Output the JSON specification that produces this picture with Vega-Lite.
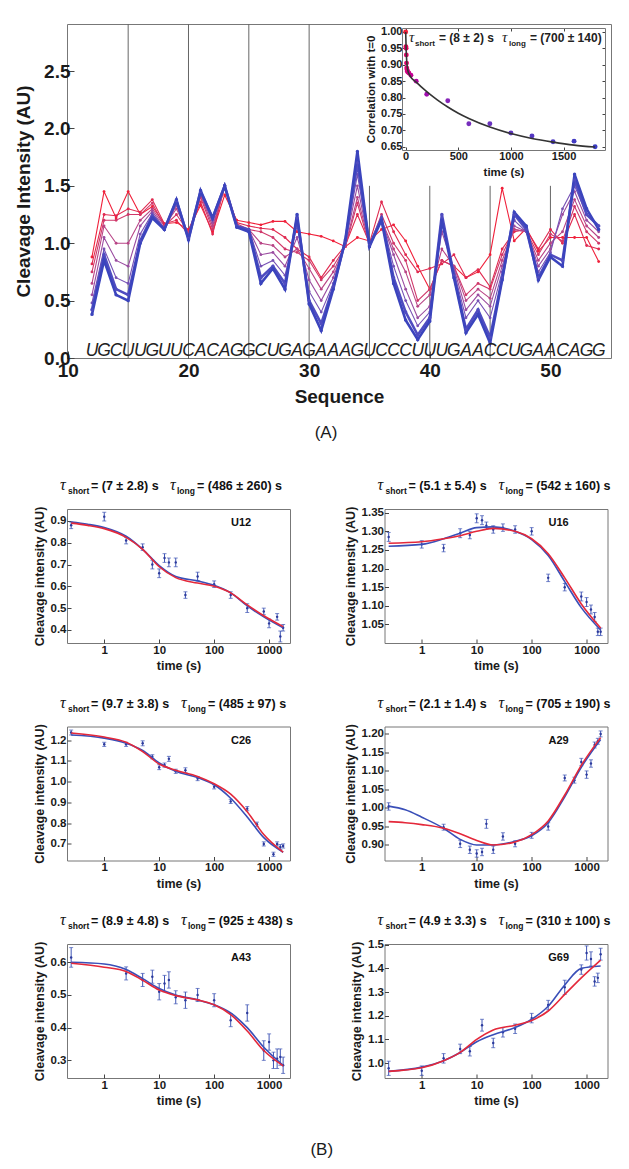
{
"$schema": "https://vega.github.io/schema/vega-lite/v6.json",
"background": "white",
"padding": {"left": 14, "top": 23, "right": 6, "bottom": 6},
"bounds": "flush",
"spacing": 151,
"config": {
  "font": "Liberation Sans",
  "view": {"stroke": "#777", "strokeWidth": 1},
  "axis": {"grid": false, "domain": false, "labelFlush": false, "labelOverlap": false, "tickCount": 20, "tickColor": "#444", "domainColor": "#777", "labelColor": "#1a1a1a", "titleColor": "#1a1a1a", "labelFont": "Liberation Sans Narrow, Arial Narrow, Liberation Sans", "titleFont": "Liberation Sans Narrow, Arial Narrow, Liberation Sans", "labelFontWeight": "bold", "titleFontWeight": "bold", "labelFontSize": 11.5, "titleFontSize": 12.5, "tickSize": -4, "labelPadding": 5, "titlePadding": 4},
  "title": {"color": "#1a1a1a"}
},
"datasets": {
"main": [
{"p":12,"b":"U","S1":0.88,"S2":0.82,"S3":0.75,"S4":0.65,"S5":0.55,"S6":0.48,"S7":0.42,"S8":0.38},
{"p":13,"b":"G","S1":1.45,"S2":1.25,"S3":1.2,"S4":1.15,"S5":1.05,"S6":0.95,"S7":0.9,"S8":0.85},
{"p":14,"b":"C","S1":1.22,"S2":1.24,"S3":1.2,"S4":1.0,"S5":0.85,"S6":0.7,"S7":0.6,"S8":0.55},
{"p":15,"b":"U","S1":1.45,"S2":1.3,"S3":1.25,"S4":1.0,"S5":0.8,"S6":0.65,"S7":0.55,"S8":0.5},
{"p":16,"b":"U","S1":1.25,"S2":1.27,"S3":1.25,"S4":1.2,"S5":1.15,"S6":1.08,"S7":1.02,"S8":1.0},
{"p":17,"b":"G","S1":1.32,"S2":1.38,"S3":1.35,"S4":1.3,"S5":1.28,"S6":1.26,"S7":1.24,"S8":1.22},
{"p":18,"b":"U","S1":1.17,"S2":1.17,"S3":1.15,"S4":1.15,"S5":1.13,"S6":1.12,"S7":1.12,"S8":1.12},
{"p":19,"b":"U","S1":1.18,"S2":1.2,"S3":1.25,"S4":1.3,"S5":1.33,"S6":1.35,"S7":1.37,"S8":1.38},
{"p":20,"b":"C","S1":1.12,"S2":1.08,"S3":1.1,"S4":1.08,"S5":1.06,"S6":1.05,"S7":1.04,"S8":1.03},
{"p":21,"b":"A","S1":1.33,"S2":1.36,"S3":1.4,"S4":1.42,"S5":1.43,"S6":1.44,"S7":1.45,"S8":1.46},
{"p":22,"b":"C","S1":1.1,"S2":1.08,"S3":1.12,"S4":1.15,"S5":1.18,"S6":1.2,"S7":1.22,"S8":1.22},
{"p":23,"b":"A","S1":1.42,"S2":1.5,"S3":1.5,"S4":1.48,"S5":1.5,"S6":1.5,"S7":1.5,"S8":1.5},
{"p":24,"b":"G","S1":1.2,"S2":1.18,"S3":1.17,"S4":1.15,"S5":1.15,"S6":1.15,"S7":1.15,"S8":1.14},
{"p":25,"b":"G","S1":1.18,"S2":1.15,"S3":1.12,"S4":1.12,"S5":1.12,"S6":1.12,"S7":1.12,"S8":1.1},
{"p":26,"b":"C","S1":1.16,"S2":1.13,"S3":1.1,"S4":1.0,"S5":0.9,"S6":0.8,"S7":0.7,"S8":0.65},
{"p":27,"b":"U","S1":1.19,"S2":1.12,"S3":1.05,"S4":0.98,"S5":0.92,"S6":0.85,"S7":0.8,"S8":0.78},
{"p":28,"b":"G","S1":1.19,"S2":1.05,"S3":0.95,"S4":0.88,"S5":0.8,"S6":0.72,"S7":0.65,"S8":0.6},
{"p":29,"b":"A","S1":1.1,"S2":0.95,"S3":0.92,"S4":0.95,"S5":1.05,"S6":1.15,"S7":1.22,"S8":1.25},
{"p":30,"b":"G","S1":1.08,"S2":0.88,"S3":0.85,"S4":0.78,"S5":0.68,"S6":0.58,"S7":0.5,"S8":0.47},
{"p":31,"b":"A","S1":1.06,"S2":0.7,"S3":0.68,"S4":0.6,"S5":0.5,"S6":0.4,"S7":0.3,"S8":0.24},
{"p":32,"b":"A","S1":1.02,"S2":0.85,"S3":0.8,"S4":0.75,"S5":0.7,"S6":0.65,"S7":0.62,"S8":0.6},
{"p":33,"b":"A","S1":0.97,"S2":0.98,"S3":0.97,"S4":0.98,"S5":1.0,"S6":1.0,"S7":1.02,"S8":1.03},
{"p":34,"b":"G","S1":1.05,"S2":1.25,"S3":1.35,"S4":1.4,"S5":1.5,"S6":1.6,"S7":1.7,"S8":1.8},
{"p":35,"b":"U","S1":1.02,"S2":1.0,"S3":0.98,"S4":1.0,"S5":0.98,"S6":0.98,"S7":0.98,"S8":0.97},
{"p":36,"b":"C","S1":1.12,"S2":1.36,"S3":1.25,"S4":1.2,"S5":1.2,"S6":1.22,"S7":1.22,"S8":1.2},
{"p":37,"b":"C","S1":1.16,"S2":1.1,"S3":1.0,"S4":0.95,"S5":0.9,"S6":0.8,"S7":0.7,"S8":0.65},
{"p":38,"b":"C","S1":1.02,"S2":0.9,"S3":0.85,"S4":0.75,"S5":0.6,"S6":0.5,"S7":0.4,"S8":0.33},
{"p":39,"b":"U","S1":0.8,"S2":0.75,"S3":0.5,"S4":0.45,"S5":0.35,"S6":0.28,"S7":0.2,"S8":0.16},
{"p":40,"b":"U","S1":0.6,"S2":0.78,"S3":0.6,"S4":0.55,"S5":0.45,"S6":0.4,"S7":0.35,"S8":0.32},
{"p":41,"b":"U","S1":0.85,"S2":0.82,"S3":0.85,"S4":0.95,"S5":1.1,"S6":1.2,"S7":1.25,"S8":1.2},
{"p":42,"b":"G","S1":0.8,"S2":0.9,"S3":0.8,"S4":0.8,"S5":0.78,"S6":0.75,"S7":0.72,"S8":0.7},
{"p":43,"b":"A","S1":0.7,"S2":0.7,"S3":0.55,"S4":0.5,"S5":0.42,"S6":0.35,"S7":0.25,"S8":0.22},
{"p":44,"b":"A","S1":0.75,"S2":0.77,"S3":0.65,"S4":0.6,"S5":0.55,"S6":0.5,"S7":0.42,"S8":0.38},
{"p":45,"b":"C","S1":0.9,"S2":0.62,"S3":0.6,"S4":0.52,"S5":0.45,"S6":0.35,"S7":0.18,"S8":0.13},
{"p":46,"b":"C","S1":1.48,"S2":0.95,"S3":0.9,"S4":0.85,"S5":0.8,"S6":0.75,"S7":0.7,"S8":0.68},
{"p":47,"b":"U","S1":1.02,"S2":1.1,"S3":1.12,"S4":1.12,"S5":1.15,"S6":1.2,"S7":1.25,"S8":1.27},
{"p":48,"b":"G","S1":1.13,"S2":1.12,"S3":1.1,"S4":1.1,"S5":1.1,"S6":1.1,"S7":1.12,"S8":1.15},
{"p":49,"b":"A","S1":0.93,"S2":0.95,"S3":0.9,"S4":0.85,"S5":0.8,"S6":0.75,"S7":0.7,"S8":0.68},
{"p":50,"b":"A","S1":1.05,"S2":1.12,"S3":1.08,"S4":1.0,"S5":0.95,"S6":0.92,"S7":0.9,"S8":0.88},
{"p":51,"b":"C","S1":1.05,"S2":1.0,"S3":1.02,"S4":1.1,"S5":1.25,"S6":1.3,"S7":0.85,"S8":0.8},
{"p":52,"b":"A","S1":1.05,"S2":1.25,"S3":1.32,"S4":1.38,"S5":1.45,"S6":1.5,"S7":1.55,"S8":1.6},
{"p":53,"b":"G","S1":1.05,"S2":0.98,"S3":1.1,"S4":1.15,"S5":1.2,"S6":1.25,"S7":1.25,"S8":1.3},
{"p":54,"b":"G","S1":0.84,"S2":0.95,"S3":1.0,"S4":1.05,"S5":1.1,"S6":1.15,"S7":1.15,"S8":1.12}
],
"rules": [{"x":15,"bot":0,"top":2.91},{"x":20,"bot":0,"top":2.91},{"x":25,"bot":0,"top":2.91},{"x":30,"bot":0,"top":2.91},{"x":35,"bot":0,"top":1.5},{"x":40,"bot":0,"top":1.5},{"x":45,"bot":0,"top":1.5},{"x":50,"bot":0,"top":1.5}],
"inpts": [{"t":0,"c":1.0},{"t":2,"c":0.955},{"t":4,"c":0.95},{"t":6,"c":0.93},{"t":8,"c":0.905},{"t":10,"c":0.89},{"t":13,"c":0.885},{"t":16,"c":0.88},{"t":20,"c":0.878},{"t":30,"c":0.875},{"t":50,"c":0.868},{"t":100,"c":0.85},{"t":200,"c":0.81},{"t":400,"c":0.79},{"t":600,"c":0.72},{"t":800,"c":0.72},{"t":1000,"c":0.692},{"t":1200,"c":0.683},{"t":1400,"c":0.665},{"t":1600,"c":0.667},{"t":1800,"c":0.65}],
"infit": [{"t":0,"c":1.0},{"t":5,"c":0.942},{"t":10,"c":0.911},{"t":20,"c":0.883},{"t":40,"c":0.867},{"t":100,"c":0.847},{"t":200,"c":0.818},{"t":300,"c":0.793},{"t":400,"c":0.771},{"t":500,"c":0.752},{"t":600,"c":0.736},{"t":800,"c":0.71},{"t":1000,"c":0.69},{"t":1200,"c":0.675},{"t":1400,"c":0.664},{"t":1600,"c":0.655},{"t":1800,"c":0.649}],
"u12p": [{"t":0.25,"v":0.88,"e":0.015},{"t":1,"v":0.92,"e":0.02},{"t":2.5,"v":0.81,"e":0.015},{"t":5,"v":0.78,"e":0.015},{"t":7.5,"v":0.7,"e":0.02},{"t":10,"v":0.66,"e":0.02},{"t":12.5,"v":0.73,"e":0.02},{"t":15,"v":0.71,"e":0.02},{"t":20,"v":0.71,"e":0.02},{"t":30,"v":0.56,"e":0.015},{"t":50,"v":0.645,"e":0.02},{"t":100,"v":0.61,"e":0.015},{"t":200,"v":0.56,"e":0.015},{"t":400,"v":0.5,"e":0.02},{"t":800,"v":0.485,"e":0.015},{"t":1000,"v":0.43,"e":0.02},{"t":1400,"v":0.46,"e":0.015},{"t":1600,"v":0.37,"e":0.025},{"t":1800,"v":0.41,"e":0.015}],
"u12f": [{"t":0.25,"blue":0.895,"red":0.89},{"t":0.5,"blue":0.885,"red":0.88},{"t":1,"blue":0.87,"red":0.865},{"t":2.5,"blue":0.83,"red":0.825},{"t":5,"blue":0.77,"red":0.77},{"t":10,"blue":0.695,"red":0.69},{"t":20,"blue":0.645,"red":0.64},{"t":50,"blue":0.625,"red":0.615},{"t":100,"blue":0.605,"red":0.6},{"t":200,"blue":0.57,"red":0.57},{"t":400,"blue":0.51,"red":0.515},{"t":800,"blue":0.46,"red":0.465},{"t":1800,"blue":0.41,"red":0.415}],
"u16p": [{"t":0.25,"v":1.285,"e":0.012},{"t":1,"v":1.265,"e":0.01},{"t":2.5,"v":1.255,"e":0.01},{"t":5,"v":1.295,"e":0.012},{"t":7.5,"v":1.29,"e":0.01},{"t":10,"v":1.335,"e":0.012},{"t":12.5,"v":1.33,"e":0.012},{"t":15,"v":1.315,"e":0.01},{"t":20,"v":1.305,"e":0.01},{"t":30,"v":1.31,"e":0.01},{"t":50,"v":1.305,"e":0.01},{"t":100,"v":1.3,"e":0.01},{"t":200,"v":1.175,"e":0.01},{"t":400,"v":1.15,"e":0.01},{"t":800,"v":1.125,"e":0.012},{"t":1000,"v":1.11,"e":0.012},{"t":1200,"v":1.09,"e":0.012},{"t":1400,"v":1.07,"e":0.012},{"t":1600,"v":1.03,"e":0.01},{"t":1800,"v":1.03,"e":0.01}],
"u16f": [{"t":0.25,"blue":1.26,"red":1.268},{"t":1,"blue":1.265,"red":1.272},{"t":2.5,"blue":1.28,"red":1.28},{"t":5,"blue":1.295,"red":1.288},{"t":10,"blue":1.31,"red":1.3},{"t":20,"blue":1.312,"red":1.308},{"t":50,"blue":1.3,"red":1.3},{"t":100,"blue":1.278,"red":1.28},{"t":200,"blue":1.235,"red":1.24},{"t":400,"blue":1.165,"red":1.175},{"t":800,"blue":1.095,"red":1.105},{"t":1800,"blue":1.035,"red":1.04}],
"c26p": [{"t":0.25,"v":1.237,"e":0.012},{"t":1,"v":1.18,"e":0.01},{"t":2.5,"v":1.18,"e":0.01},{"t":5,"v":1.185,"e":0.012},{"t":7.5,"v":1.12,"e":0.01},{"t":10,"v":1.07,"e":0.012},{"t":12.5,"v":1.08,"e":0.01},{"t":15,"v":1.11,"e":0.012},{"t":20,"v":1.05,"e":0.01},{"t":30,"v":1.055,"e":0.012},{"t":50,"v":1.015,"e":0.01},{"t":100,"v":0.975,"e":0.01},{"t":200,"v":0.905,"e":0.01},{"t":400,"v":0.87,"e":0.01},{"t":600,"v":0.795,"e":0.01},{"t":800,"v":0.7,"e":0.01},{"t":1200,"v":0.65,"e":0.01},{"t":1400,"v":0.7,"e":0.01},{"t":1600,"v":0.685,"e":0.012},{"t":1800,"v":0.69,"e":0.01}],
"c26f": [{"t":0.25,"blue":1.225,"red":1.235},{"t":1,"blue":1.21,"red":1.215},{"t":2.5,"blue":1.185,"red":1.19},{"t":5,"blue":1.15,"red":1.145},{"t":10,"blue":1.09,"red":1.085},{"t":20,"blue":1.05,"red":1.055},{"t":50,"blue":1.02,"red":1.025},{"t":100,"blue":0.985,"red":0.99},{"t":200,"blue":0.92,"red":0.94},{"t":400,"blue":0.83,"red":0.855},{"t":800,"blue":0.73,"red":0.745},{"t":1800,"blue":0.66,"red":0.66}],
"a29p": [{"t":0.25,"v":1.004,"e":0.01},{"t":2.5,"v":0.948,"e":0.008},{"t":5,"v":0.903,"e":0.01},{"t":7.5,"v":0.887,"e":0.01},{"t":10,"v":0.877,"e":0.01},{"t":12.5,"v":0.881,"e":0.01},{"t":15,"v":0.957,"e":0.012},{"t":20,"v":0.887,"e":0.01},{"t":30,"v":0.923,"e":0.01},{"t":50,"v":0.903,"e":0.008},{"t":100,"v":0.926,"e":0.008},{"t":200,"v":0.95,"e":0.01},{"t":400,"v":1.081,"e":0.008},{"t":600,"v":1.075,"e":0.008},{"t":800,"v":1.124,"e":0.01},{"t":1000,"v":1.09,"e":0.01},{"t":1200,"v":1.12,"e":0.01},{"t":1400,"v":1.17,"e":0.008},{"t":1600,"v":1.18,"e":0.008},{"t":1800,"v":1.2,"e":0.008}],
"a29f": [{"t":0.25,"blue":1.005,"red":0.963},{"t":0.5,"blue":0.995,"red":0.96},{"t":1,"blue":0.975,"red":0.955},{"t":2.5,"blue":0.945,"red":0.945},{"t":5,"blue":0.915,"red":0.93},{"t":10,"blue":0.9,"red":0.912},{"t":20,"blue":0.9,"red":0.9},{"t":50,"blue":0.91,"red":0.908},{"t":100,"blue":0.925,"red":0.928},{"t":200,"blue":0.96,"red":0.965},{"t":400,"blue":1.03,"red":1.035},{"t":800,"blue":1.11,"red":1.115},{"t":1800,"blue":1.185,"red":1.19}],
"a43p": [{"t":0.25,"v":0.615,"e":0.03},{"t":2.5,"v":0.566,"e":0.02},{"t":5,"v":0.546,"e":0.02},{"t":7.5,"v":0.556,"e":0.02},{"t":10,"v":0.51,"e":0.025},{"t":12.5,"v":0.535,"e":0.025},{"t":15,"v":0.546,"e":0.025},{"t":20,"v":0.493,"e":0.02},{"t":30,"v":0.484,"e":0.025},{"t":50,"v":0.5,"e":0.02},{"t":100,"v":0.484,"e":0.02},{"t":200,"v":0.423,"e":0.02},{"t":400,"v":0.445,"e":0.025},{"t":800,"v":0.33,"e":0.03},{"t":1000,"v":0.356,"e":0.025},{"t":1200,"v":0.3,"e":0.025},{"t":1400,"v":0.305,"e":0.03},{"t":1600,"v":0.31,"e":0.025},{"t":1800,"v":0.285,"e":0.025}],
"a43f": [{"t":0.25,"blue":0.6,"red":0.597},{"t":1,"blue":0.595,"red":0.585},{"t":2.5,"blue":0.578,"red":0.572},{"t":5,"blue":0.55,"red":0.545},{"t":10,"blue":0.52,"red":0.515},{"t":20,"blue":0.5,"red":0.498},{"t":50,"blue":0.485,"red":0.485},{"t":100,"blue":0.47,"red":0.47},{"t":200,"blue":0.445,"red":0.44},{"t":400,"blue":0.4,"red":0.39},{"t":800,"blue":0.34,"red":0.33},{"t":1800,"blue":0.285,"red":0.283}],
"g69p": [{"t":0.25,"v":0.978,"e":0.03},{"t":1,"v":0.968,"e":0.02},{"t":2.5,"v":1.02,"e":0.02},{"t":5,"v":1.06,"e":0.02},{"t":7.5,"v":1.05,"e":0.02},{"t":12.5,"v":1.16,"e":0.025},{"t":20,"v":1.085,"e":0.02},{"t":30,"v":1.13,"e":0.02},{"t":50,"v":1.145,"e":0.02},{"t":100,"v":1.19,"e":0.02},{"t":200,"v":1.245,"e":0.02},{"t":400,"v":1.32,"e":0.03},{"t":800,"v":1.395,"e":0.02},{"t":1000,"v":1.465,"e":0.03},{"t":1200,"v":1.44,"e":0.03},{"t":1400,"v":1.345,"e":0.02},{"t":1600,"v":1.36,"e":0.02},{"t":1800,"v":1.46,"e":0.025}],
"g69f": [{"t":0.25,"blue":0.965,"red":0.965},{"t":1,"blue":0.983,"red":0.98},{"t":2.5,"blue":1.01,"red":1.01},{"t":5,"blue":1.045,"red":1.045},{"t":10,"blue":1.09,"red":1.1},{"t":20,"blue":1.12,"red":1.14},{"t":50,"blue":1.15,"red":1.16},{"t":100,"blue":1.185,"red":1.18},{"t":200,"blue":1.24,"red":1.22},{"t":400,"blue":1.33,"red":1.29},{"t":800,"blue":1.4,"red":1.36},{"t":1800,"blue":1.41,"red":1.435}]
},
"vconcat": [
{
 "width": 544, "height": 334,
 "title": {"text": "(A)", "orient": "bottom", "offset": 19, "fontSize": 17, "fontWeight": "normal", "frame": "group", "dx": -13},
 "layer": [
  {"layer": [
    {"data": {"name": "rules"}, "mark": {"type": "rule", "color": "#666", "strokeWidth": 1},
     "encoding": {
       "x": {"field": "x", "type": "quantitative", "scale": {"domain": [9.93, 55.02], "nice": false, "zero": false},
             "axis": {"orient": "bottom", "title": "Sequence", "values": [10,20,30,40,50], "labelFont": "Liberation Sans", "titleFont": "Liberation Sans", "labelFontSize": 19, "titleFontSize": 19, "tickSize": -7, "labelPadding": 10, "titlePadding": 7, "labelOverlap": false}},
       "y": {"field": "bot", "type": "quantitative", "scale": {"domain": [0, 2.91], "nice": false},
             "axis": {"orient": "left", "title": "Cleavage Intensity (AU)", "values": [0,0.5,1,1.5,2,2.5], "format": ".1f", "labelFont": "Liberation Sans", "titleFont": "Liberation Sans", "labelFontSize": 19, "titleFontSize": 19, "tickSize": -7, "labelPadding": 4, "titlePadding": 10, "labelOverlap": false}},
       "y2": {"field": "top"}}},
    {"data": {"name": "main"}, "transform": [{"fold": ["S1","S2","S3","S4","S5","S6"], "as": ["s","v"]}],
     "mark": {"type": "line", "strokeWidth": 1.1, "point": {"filled": true, "size": 8}},
     "encoding": {
       "x": {"field": "p", "type": "quantitative"},
       "y": {"field": "v", "type": "quantitative"},
       "color": {"field": "s", "type": "nominal", "scale": {"domain": ["S1","S2","S3","S4","S5","S6","S7","S8"], "range": ["#f0203a","#e02a50","#d0386a","#b84486","#9a4ca0","#7650b4","#4f4cc0","#3b44bd"]}, "legend": null}}},
    {"data": {"name": "main"}, "transform": [{"fold": ["S7","S8"], "as": ["s","v"]}],
     "mark": {"type": "line", "strokeWidth": 2.6, "point": {"filled": true, "size": 12}},
     "encoding": {
       "x": {"field": "p", "type": "quantitative"},
       "y": {"field": "v", "type": "quantitative"},
       "color": {"field": "s", "type": "nominal", "legend": null}}},
    {"data": {"name": "main"}, "mark": {"type": "text", "fontStyle": "italic", "fontSize": 17.5, "color": "#222", "baseline": "alphabetic", "dy": -2},
     "encoding": {"x": {"field": "p", "type": "quantitative"}, "y": {"datum": 0}, "text": {"field": "b"}}}
  ]},
  {"layer": [
    {"data": {"name": "inpts"}, "mark": {"type": "point", "filled": true, "size": 24, "opacity": 1},
     "encoding": {
       "x": {"field": "t", "type": "quantitative", "scale": {"domain": [-35, 1894], "range": [335, 538], "nice": false, "zero": false},
             "axis": {"orient": "bottom", "offset": -208, "domain": true, "title": "time (s)", "values": [0,500,1000,1500], "format": "d", "labelFont": "Liberation Sans", "titleFont": "Liberation Sans", "labelFontSize": 11, "titleFontSize": 11.5, "tickSize": -3, "labelPadding": 3, "titlePadding": 5, "labelOverlap": false}},
       "y": {"field": "c", "type": "quantitative", "scale": {"domain": [0.64, 1.012], "range": [126, 4], "nice": false, "zero": false},
             "axis": {"orient": "left", "offset": -335, "domain": true, "title": "Correlation with t=0", "values": [0.65,0.7,0.75,0.8,0.85,0.9,0.95,1], "format": ".2f", "labelFont": "Liberation Sans", "titleFont": "Liberation Sans", "labelFontSize": 11, "titleFontSize": 11.5, "tickSize": -3, "labelPadding": 3, "titlePadding": 4, "labelOverlap": false}},
       "color": {"field": "t", "type": "quantitative", "scale": {"type": "symlog", "domain": [0, 1800], "range": ["#f0203a", "#3a3cc4"]}, "legend": null}}},
    {"data": {"values": [{}]}, "mark": {"type": "text", "text": "τ", "align": "left", "baseline": "alphabetic", "dx": 7, "dy": 14, "font": "Liberation Serif", "fontStyle": "italic", "fontSize": 15, "color": "#222"}, "encoding": {"x": {"datum": -35}, "y": {"datum": 1.012}}},
    {"data": {"values": [{}]}, "mark": {"type": "text", "text": "short", "align": "left", "baseline": "alphabetic", "dx": 13, "dy": 18, "fontWeight": "bold", "fontSize": 8, "color": "#222"}, "encoding": {"x": {"datum": -35}, "y": {"datum": 1.012}}},
    {"data": {"values": [{}]}, "mark": {"type": "text", "text": "= (8 ± 2) s", "align": "left", "baseline": "alphabetic", "dx": 37, "dy": 14, "fontWeight": "bold", "fontSize": 12, "color": "#222"}, "encoding": {"x": {"datum": -35}, "y": {"datum": 1.012}}},
    {"data": {"values": [{}]}, "mark": {"type": "text", "text": "τ", "align": "left", "baseline": "alphabetic", "dx": 100, "dy": 14, "font": "Liberation Serif", "fontStyle": "italic", "fontSize": 15, "color": "#222"}, "encoding": {"x": {"datum": -35}, "y": {"datum": 1.012}}},
    {"data": {"values": [{}]}, "mark": {"type": "text", "text": "long", "align": "left", "baseline": "alphabetic", "dx": 107, "dy": 18, "fontWeight": "bold", "fontSize": 8, "color": "#222"}, "encoding": {"x": {"datum": -35}, "y": {"datum": 1.012}}},
    {"data": {"values": [{}]}, "mark": {"type": "text", "text": "= (700 ± 140)", "align": "left", "baseline": "alphabetic", "dx": 128, "dy": 14, "fontWeight": "bold", "fontSize": 12, "color": "#222"}, "encoding": {"x": {"datum": -35}, "y": {"datum": 1.012}}}
  ]},
  {"data": {"name": "infit"}, "mark": {"type": "line", "color": "#333", "strokeWidth": 1.6, "interpolate": "monotone"},
   "encoding": {
     "x": {"field": "t", "type": "quantitative", "scale": {"domain": [-35, 1894], "range": [335, 538], "nice": false, "zero": false},
           "axis": {"orient": "top", "offset": -4, "domain": true, "labels": false, "title": null, "values": [0,500,1000,1500], "tickSize": -3}},
     "y": {"field": "c", "type": "quantitative", "scale": {"domain": [0.64, 1.012], "range": [126, 4], "nice": false, "zero": false},
           "axis": {"orient": "right", "offset": -6, "domain": true, "labels": false, "title": null, "values": [0.65,0.7,0.75,0.8,0.85,0.9,0.95,1], "tickSize": -3}}}}
 ],
 "resolve": {"scale": {"x": "independent", "y": "independent", "color": "independent"}}
},
{
 "columns": 2, "bounds": "flush", "spacing": {"row": 83.5, "column": 94.5},
 "title": {"text": "(B)", "orient": "bottom", "anchor": "middle", "offset": 34, "fontSize": 17, "fontWeight": "normal"},
 "concat": [
  {"width": 223, "height": 134, "layer": [
    {"data": {"name": "u12p"}, "mark": {"type": "errorbar", "ticks": {"size": 4}, "color": "#3f55b5", "thickness": 1},
     "encoding": {"x": {"field": "t", "type": "quantitative", "scale": {"type": "log", "domain": [0.21, 2400], "nice": false}, "axis": {"title": "time (s)", "values": [1,10,100,1000], "format": "d", "labelOverlap": false, "tickCount": 20}},
       "y": {"field": "v", "type": "quantitative", "scale": {"domain": [0.34, 0.955], "nice": false, "zero": false}, "axis": {"title": "Cleavage intensity (AU)", "values": [0.4,0.5,0.6,0.7,0.8,0.9], "format": ".1f", "labelOverlap": false, "tickCount": 20}},
       "yError": {"field": "e"}}},
    {"data": {"name": "u12p"}, "mark": {"type": "point", "filled": true, "size": 6, "color": "#2c3a9c", "opacity": 1}, "encoding": {"x": {"field": "t", "type": "quantitative"}, "y": {"field": "v", "type": "quantitative"}}},
    {"data": {"name": "u12f"}, "transform": [{"fold": ["blue","red"], "as": ["fit","v"]}], "mark": {"type": "line", "interpolate": "monotone", "strokeWidth": 1.6},
     "encoding": {"x": {"field": "t", "type": "quantitative"}, "y": {"field": "v", "type": "quantitative"}, "color": {"field": "fit", "type": "nominal", "scale": {"domain": ["blue","red"], "range": ["#3a4fb8","#e4283a"]}, "legend": null}}},
    {"data": {"values": [{}]}, "mark": {"type": "text", "text": "τ", "align": "left", "baseline": "alphabetic", "dx": -7, "dy": -19, "font": "Liberation Serif", "fontStyle": "italic", "fontSize": 16, "color": "#111"}, "encoding": {"x": {"datum": 0.21}, "y": {"datum": 0.955}}},
    {"data": {"values": [{}]}, "mark": {"type": "text", "text": "short", "align": "left", "baseline": "alphabetic", "dx": 1, "dy": -15, "fontWeight": "bold", "fontSize": 8.5, "color": "#111"}, "encoding": {"x": {"datum": 0.21}, "y": {"datum": 0.955}}},
    {"data": {"values": [{}]}, "mark": {"type": "text", "text": "= (7 ± 2.8) s", "align": "left", "baseline": "alphabetic", "dx": 24, "dy": -19, "fontWeight": "bold", "fontSize": 12.5, "color": "#111"}, "encoding": {"x": {"datum": 0.21}, "y": {"datum": 0.955}}},
    {"data": {"values": [{}]}, "mark": {"type": "text", "text": "τ", "align": "left", "baseline": "alphabetic", "dx": 103, "dy": -19, "font": "Liberation Serif", "fontStyle": "italic", "fontSize": 16, "color": "#111"}, "encoding": {"x": {"datum": 0.21}, "y": {"datum": 0.955}}},
    {"data": {"values": [{}]}, "mark": {"type": "text", "text": "long", "align": "left", "baseline": "alphabetic", "dx": 110, "dy": -15, "fontWeight": "bold", "fontSize": 8.5, "color": "#111"}, "encoding": {"x": {"datum": 0.21}, "y": {"datum": 0.955}}},
    {"data": {"values": [{}]}, "mark": {"type": "text", "text": "= (486 ± 260) s", "align": "left", "baseline": "alphabetic", "dx": 130, "dy": -19, "fontWeight": "bold", "fontSize": 12.5, "color": "#111"}, "encoding": {"x": {"datum": 0.21}, "y": {"datum": 0.955}}},
    {"data": {"values": [{}]}, "mark": {"type": "text", "text": "U12", "align": "center", "baseline": "middle", "dy": 14, "fontWeight": "bold", "fontSize": 11, "font": "Liberation Sans Narrow, Arial Narrow, Liberation Sans", "color": "#111"}, "encoding": {"x": {"datum": 310}, "y": {"datum": 0.955}}}
  ]},
  {"width": 223, "height": 134, "layer": [
    {"data": {"name": "u16p"}, "mark": {"type": "errorbar", "ticks": {"size": 4}, "color": "#3f55b5", "thickness": 1},
     "encoding": {"x": {"field": "t", "type": "quantitative", "scale": {"type": "log", "domain": [0.21, 2400], "nice": false}, "axis": {"title": "time (s)", "values": [1,10,100,1000], "format": "d", "labelOverlap": false, "tickCount": 20}},
       "y": {"field": "v", "type": "quantitative", "scale": {"domain": [1.0, 1.36], "nice": false, "zero": false}, "axis": {"title": "Cleavage intensity (AU)", "values": [1.05,1.1,1.15,1.2,1.25,1.3,1.35], "format": ".2f", "labelOverlap": false, "tickCount": 20}},
       "yError": {"field": "e"}}},
    {"data": {"name": "u16p"}, "mark": {"type": "point", "filled": true, "size": 6, "color": "#2c3a9c", "opacity": 1}, "encoding": {"x": {"field": "t", "type": "quantitative"}, "y": {"field": "v", "type": "quantitative"}}},
    {"data": {"name": "u16f"}, "transform": [{"fold": ["blue","red"], "as": ["fit","v"]}], "mark": {"type": "line", "interpolate": "monotone", "strokeWidth": 1.6},
     "encoding": {"x": {"field": "t", "type": "quantitative"}, "y": {"field": "v", "type": "quantitative"}, "color": {"field": "fit", "type": "nominal", "scale": {"domain": ["blue","red"], "range": ["#3a4fb8","#e4283a"]}, "legend": null}}},
    {"data": {"values": [{}]}, "mark": {"type": "text", "text": "τ", "align": "left", "baseline": "alphabetic", "dx": -7, "dy": -19, "font": "Liberation Serif", "fontStyle": "italic", "fontSize": 16, "color": "#111"}, "encoding": {"x": {"datum": 0.21}, "y": {"datum": 1.36}}},
    {"data": {"values": [{}]}, "mark": {"type": "text", "text": "short", "align": "left", "baseline": "alphabetic", "dx": 1, "dy": -15, "fontWeight": "bold", "fontSize": 8.5, "color": "#111"}, "encoding": {"x": {"datum": 0.21}, "y": {"datum": 1.36}}},
    {"data": {"values": [{}]}, "mark": {"type": "text", "text": "= (5.1 ± 5.4) s", "align": "left", "baseline": "alphabetic", "dx": 24, "dy": -19, "fontWeight": "bold", "fontSize": 12.5, "color": "#111"}, "encoding": {"x": {"datum": 0.21}, "y": {"datum": 1.36}}},
    {"data": {"values": [{}]}, "mark": {"type": "text", "text": "τ", "align": "left", "baseline": "alphabetic", "dx": 114, "dy": -19, "font": "Liberation Serif", "fontStyle": "italic", "fontSize": 16, "color": "#111"}, "encoding": {"x": {"datum": 0.21}, "y": {"datum": 1.36}}},
    {"data": {"values": [{}]}, "mark": {"type": "text", "text": "long", "align": "left", "baseline": "alphabetic", "dx": 121, "dy": -15, "fontWeight": "bold", "fontSize": 8.5, "color": "#111"}, "encoding": {"x": {"datum": 0.21}, "y": {"datum": 1.36}}},
    {"data": {"values": [{}]}, "mark": {"type": "text", "text": "= (542 ± 160) s", "align": "left", "baseline": "alphabetic", "dx": 141, "dy": -19, "fontWeight": "bold", "fontSize": 12.5, "color": "#111"}, "encoding": {"x": {"datum": 0.21}, "y": {"datum": 1.36}}},
    {"data": {"values": [{}]}, "mark": {"type": "text", "text": "U16", "align": "center", "baseline": "middle", "dy": 14, "fontWeight": "bold", "fontSize": 11, "font": "Liberation Sans Narrow, Arial Narrow, Liberation Sans", "color": "#111"}, "encoding": {"x": {"datum": 310}, "y": {"datum": 1.36}}}
  ]},
  {"width": 223, "height": 134, "layer": [
    {"data": {"name": "c26p"}, "mark": {"type": "errorbar", "ticks": {"size": 4}, "color": "#3f55b5", "thickness": 1},
     "encoding": {"x": {"field": "t", "type": "quantitative", "scale": {"type": "log", "domain": [0.21, 2400], "nice": false}, "axis": {"title": "time (s)", "values": [1,10,100,1000], "format": "d", "labelOverlap": false, "tickCount": 20}},
       "y": {"field": "v", "type": "quantitative", "scale": {"domain": [0.62, 1.266], "nice": false, "zero": false}, "axis": {"title": "Cleavage intensity (AU)", "values": [0.7,0.8,0.9,1.0,1.1,1.2], "format": ".1f", "labelOverlap": false, "tickCount": 20}},
       "yError": {"field": "e"}}},
    {"data": {"name": "c26p"}, "mark": {"type": "point", "filled": true, "size": 6, "color": "#2c3a9c", "opacity": 1}, "encoding": {"x": {"field": "t", "type": "quantitative"}, "y": {"field": "v", "type": "quantitative"}}},
    {"data": {"name": "c26f"}, "transform": [{"fold": ["blue","red"], "as": ["fit","v"]}], "mark": {"type": "line", "interpolate": "monotone", "strokeWidth": 1.6},
     "encoding": {"x": {"field": "t", "type": "quantitative"}, "y": {"field": "v", "type": "quantitative"}, "color": {"field": "fit", "type": "nominal", "scale": {"domain": ["blue","red"], "range": ["#3a4fb8","#e4283a"]}, "legend": null}}},
    {"data": {"values": [{}]}, "mark": {"type": "text", "text": "τ", "align": "left", "baseline": "alphabetic", "dx": -7, "dy": -19, "font": "Liberation Serif", "fontStyle": "italic", "fontSize": 16, "color": "#111"}, "encoding": {"x": {"datum": 0.21}, "y": {"datum": 1.266}}},
    {"data": {"values": [{}]}, "mark": {"type": "text", "text": "short", "align": "left", "baseline": "alphabetic", "dx": 1, "dy": -15, "fontWeight": "bold", "fontSize": 8.5, "color": "#111"}, "encoding": {"x": {"datum": 0.21}, "y": {"datum": 1.266}}},
    {"data": {"values": [{}]}, "mark": {"type": "text", "text": "= (9.7 ± 3.8) s", "align": "left", "baseline": "alphabetic", "dx": 24, "dy": -19, "fontWeight": "bold", "fontSize": 12.5, "color": "#111"}, "encoding": {"x": {"datum": 0.21}, "y": {"datum": 1.266}}},
    {"data": {"values": [{}]}, "mark": {"type": "text", "text": "τ", "align": "left", "baseline": "alphabetic", "dx": 114, "dy": -19, "font": "Liberation Serif", "fontStyle": "italic", "fontSize": 16, "color": "#111"}, "encoding": {"x": {"datum": 0.21}, "y": {"datum": 1.266}}},
    {"data": {"values": [{}]}, "mark": {"type": "text", "text": "long", "align": "left", "baseline": "alphabetic", "dx": 121, "dy": -15, "fontWeight": "bold", "fontSize": 8.5, "color": "#111"}, "encoding": {"x": {"datum": 0.21}, "y": {"datum": 1.266}}},
    {"data": {"values": [{}]}, "mark": {"type": "text", "text": "= (485 ± 97) s", "align": "left", "baseline": "alphabetic", "dx": 141, "dy": -19, "fontWeight": "bold", "fontSize": 12.5, "color": "#111"}, "encoding": {"x": {"datum": 0.21}, "y": {"datum": 1.266}}},
    {"data": {"values": [{}]}, "mark": {"type": "text", "text": "C26", "align": "center", "baseline": "middle", "dy": 14, "fontWeight": "bold", "fontSize": 11, "font": "Liberation Sans Narrow, Arial Narrow, Liberation Sans", "color": "#111"}, "encoding": {"x": {"datum": 310}, "y": {"datum": 1.266}}}
  ]},
  {"width": 223, "height": 134, "layer": [
    {"data": {"name": "a29p"}, "mark": {"type": "errorbar", "ticks": {"size": 4}, "color": "#3f55b5", "thickness": 1},
     "encoding": {"x": {"field": "t", "type": "quantitative", "scale": {"type": "log", "domain": [0.21, 2400], "nice": false}, "axis": {"title": "time (s)", "values": [1,10,100,1000], "format": "d", "labelOverlap": false, "tickCount": 20}},
       "y": {"field": "v", "type": "quantitative", "scale": {"domain": [0.858, 1.22], "nice": false, "zero": false}, "axis": {"title": "Cleavage intensity (AU)", "values": [0.9,0.95,1.0,1.05,1.1,1.15,1.2], "format": ".2f", "labelOverlap": false, "tickCount": 20}},
       "yError": {"field": "e"}}},
    {"data": {"name": "a29p"}, "mark": {"type": "point", "filled": true, "size": 6, "color": "#2c3a9c", "opacity": 1}, "encoding": {"x": {"field": "t", "type": "quantitative"}, "y": {"field": "v", "type": "quantitative"}}},
    {"data": {"name": "a29f"}, "transform": [{"fold": ["blue","red"], "as": ["fit","v"]}], "mark": {"type": "line", "interpolate": "monotone", "strokeWidth": 1.6},
     "encoding": {"x": {"field": "t", "type": "quantitative"}, "y": {"field": "v", "type": "quantitative"}, "color": {"field": "fit", "type": "nominal", "scale": {"domain": ["blue","red"], "range": ["#3a4fb8","#e4283a"]}, "legend": null}}},
    {"data": {"values": [{}]}, "mark": {"type": "text", "text": "τ", "align": "left", "baseline": "alphabetic", "dx": -7, "dy": -19, "font": "Liberation Serif", "fontStyle": "italic", "fontSize": 16, "color": "#111"}, "encoding": {"x": {"datum": 0.21}, "y": {"datum": 1.22}}},
    {"data": {"values": [{}]}, "mark": {"type": "text", "text": "short", "align": "left", "baseline": "alphabetic", "dx": 1, "dy": -15, "fontWeight": "bold", "fontSize": 8.5, "color": "#111"}, "encoding": {"x": {"datum": 0.21}, "y": {"datum": 1.22}}},
    {"data": {"values": [{}]}, "mark": {"type": "text", "text": "= (2.1 ± 1.4) s", "align": "left", "baseline": "alphabetic", "dx": 24, "dy": -19, "fontWeight": "bold", "fontSize": 12.5, "color": "#111"}, "encoding": {"x": {"datum": 0.21}, "y": {"datum": 1.22}}},
    {"data": {"values": [{}]}, "mark": {"type": "text", "text": "τ", "align": "left", "baseline": "alphabetic", "dx": 114, "dy": -19, "font": "Liberation Serif", "fontStyle": "italic", "fontSize": 16, "color": "#111"}, "encoding": {"x": {"datum": 0.21}, "y": {"datum": 1.22}}},
    {"data": {"values": [{}]}, "mark": {"type": "text", "text": "long", "align": "left", "baseline": "alphabetic", "dx": 121, "dy": -15, "fontWeight": "bold", "fontSize": 8.5, "color": "#111"}, "encoding": {"x": {"datum": 0.21}, "y": {"datum": 1.22}}},
    {"data": {"values": [{}]}, "mark": {"type": "text", "text": "= (705 ± 190) s", "align": "left", "baseline": "alphabetic", "dx": 141, "dy": -19, "fontWeight": "bold", "fontSize": 12.5, "color": "#111"}, "encoding": {"x": {"datum": 0.21}, "y": {"datum": 1.22}}},
    {"data": {"values": [{}]}, "mark": {"type": "text", "text": "A29", "align": "center", "baseline": "middle", "dy": 14, "fontWeight": "bold", "fontSize": 11, "font": "Liberation Sans Narrow, Arial Narrow, Liberation Sans", "color": "#111"}, "encoding": {"x": {"datum": 310}, "y": {"datum": 1.22}}}
  ]},
  {"width": 223, "height": 134, "layer": [
    {"data": {"name": "a43p"}, "mark": {"type": "errorbar", "ticks": {"size": 4}, "color": "#3f55b5", "thickness": 1},
     "encoding": {"x": {"field": "t", "type": "quantitative", "scale": {"type": "log", "domain": [0.21, 2400], "nice": false}, "axis": {"title": "time (s)", "values": [1,10,100,1000], "format": "d", "labelOverlap": false, "tickCount": 20}},
       "y": {"field": "v", "type": "quantitative", "scale": {"domain": [0.246, 0.656], "nice": false, "zero": false}, "axis": {"title": "Cleavage intensity (AU)", "values": [0.3,0.4,0.5,0.6], "format": ".1f", "labelOverlap": false, "tickCount": 20}},
       "yError": {"field": "e"}}},
    {"data": {"name": "a43p"}, "mark": {"type": "point", "filled": true, "size": 6, "color": "#2c3a9c", "opacity": 1}, "encoding": {"x": {"field": "t", "type": "quantitative"}, "y": {"field": "v", "type": "quantitative"}}},
    {"data": {"name": "a43f"}, "transform": [{"fold": ["blue","red"], "as": ["fit","v"]}], "mark": {"type": "line", "interpolate": "monotone", "strokeWidth": 1.6},
     "encoding": {"x": {"field": "t", "type": "quantitative"}, "y": {"field": "v", "type": "quantitative"}, "color": {"field": "fit", "type": "nominal", "scale": {"domain": ["blue","red"], "range": ["#3a4fb8","#e4283a"]}, "legend": null}}},
    {"data": {"values": [{}]}, "mark": {"type": "text", "text": "τ", "align": "left", "baseline": "alphabetic", "dx": -7, "dy": -19, "font": "Liberation Serif", "fontStyle": "italic", "fontSize": 16, "color": "#111"}, "encoding": {"x": {"datum": 0.21}, "y": {"datum": 0.656}}},
    {"data": {"values": [{}]}, "mark": {"type": "text", "text": "short", "align": "left", "baseline": "alphabetic", "dx": 1, "dy": -15, "fontWeight": "bold", "fontSize": 8.5, "color": "#111"}, "encoding": {"x": {"datum": 0.21}, "y": {"datum": 0.656}}},
    {"data": {"values": [{}]}, "mark": {"type": "text", "text": "= (8.9 ± 4.8) s", "align": "left", "baseline": "alphabetic", "dx": 24, "dy": -19, "fontWeight": "bold", "fontSize": 12.5, "color": "#111"}, "encoding": {"x": {"datum": 0.21}, "y": {"datum": 0.656}}},
    {"data": {"values": [{}]}, "mark": {"type": "text", "text": "τ", "align": "left", "baseline": "alphabetic", "dx": 114, "dy": -19, "font": "Liberation Serif", "fontStyle": "italic", "fontSize": 16, "color": "#111"}, "encoding": {"x": {"datum": 0.21}, "y": {"datum": 0.656}}},
    {"data": {"values": [{}]}, "mark": {"type": "text", "text": "long", "align": "left", "baseline": "alphabetic", "dx": 121, "dy": -15, "fontWeight": "bold", "fontSize": 8.5, "color": "#111"}, "encoding": {"x": {"datum": 0.21}, "y": {"datum": 0.656}}},
    {"data": {"values": [{}]}, "mark": {"type": "text", "text": "= (925 ± 438) s", "align": "left", "baseline": "alphabetic", "dx": 141, "dy": -19, "fontWeight": "bold", "fontSize": 12.5, "color": "#111"}, "encoding": {"x": {"datum": 0.21}, "y": {"datum": 0.656}}},
    {"data": {"values": [{}]}, "mark": {"type": "text", "text": "A43", "align": "center", "baseline": "middle", "dy": 14, "fontWeight": "bold", "fontSize": 11, "font": "Liberation Sans Narrow, Arial Narrow, Liberation Sans", "color": "#111"}, "encoding": {"x": {"datum": 310}, "y": {"datum": 0.656}}}
  ]},
  {"width": 223, "height": 134, "layer": [
    {"data": {"name": "g69p"}, "mark": {"type": "errorbar", "ticks": {"size": 4}, "color": "#3f55b5", "thickness": 1},
     "encoding": {"x": {"field": "t", "type": "quantitative", "scale": {"type": "log", "domain": [0.21, 2400], "nice": false}, "axis": {"title": "time (s)", "values": [1,10,100,1000], "format": "d", "labelOverlap": false, "tickCount": 20}},
       "y": {"field": "v", "type": "quantitative", "scale": {"domain": [0.937, 1.503], "nice": false, "zero": false}, "axis": {"title": "Cleavage intensity (AU)", "values": [1.0,1.1,1.2,1.3,1.4,1.5], "format": ".1f", "labelOverlap": false, "tickCount": 20}},
       "yError": {"field": "e"}}},
    {"data": {"name": "g69p"}, "mark": {"type": "point", "filled": true, "size": 6, "color": "#2c3a9c", "opacity": 1}, "encoding": {"x": {"field": "t", "type": "quantitative"}, "y": {"field": "v", "type": "quantitative"}}},
    {"data": {"name": "g69f"}, "transform": [{"fold": ["blue","red"], "as": ["fit","v"]}], "mark": {"type": "line", "interpolate": "monotone", "strokeWidth": 1.6},
     "encoding": {"x": {"field": "t", "type": "quantitative"}, "y": {"field": "v", "type": "quantitative"}, "color": {"field": "fit", "type": "nominal", "scale": {"domain": ["blue","red"], "range": ["#3a4fb8","#e4283a"]}, "legend": null}}},
    {"data": {"values": [{}]}, "mark": {"type": "text", "text": "τ", "align": "left", "baseline": "alphabetic", "dx": -7, "dy": -19, "font": "Liberation Serif", "fontStyle": "italic", "fontSize": 16, "color": "#111"}, "encoding": {"x": {"datum": 0.21}, "y": {"datum": 1.503}}},
    {"data": {"values": [{}]}, "mark": {"type": "text", "text": "short", "align": "left", "baseline": "alphabetic", "dx": 1, "dy": -15, "fontWeight": "bold", "fontSize": 8.5, "color": "#111"}, "encoding": {"x": {"datum": 0.21}, "y": {"datum": 1.503}}},
    {"data": {"values": [{}]}, "mark": {"type": "text", "text": "= (4.9 ± 3.3) s", "align": "left", "baseline": "alphabetic", "dx": 24, "dy": -19, "fontWeight": "bold", "fontSize": 12.5, "color": "#111"}, "encoding": {"x": {"datum": 0.21}, "y": {"datum": 1.503}}},
    {"data": {"values": [{}]}, "mark": {"type": "text", "text": "τ", "align": "left", "baseline": "alphabetic", "dx": 114, "dy": -19, "font": "Liberation Serif", "fontStyle": "italic", "fontSize": 16, "color": "#111"}, "encoding": {"x": {"datum": 0.21}, "y": {"datum": 1.503}}},
    {"data": {"values": [{}]}, "mark": {"type": "text", "text": "long", "align": "left", "baseline": "alphabetic", "dx": 121, "dy": -15, "fontWeight": "bold", "fontSize": 8.5, "color": "#111"}, "encoding": {"x": {"datum": 0.21}, "y": {"datum": 1.503}}},
    {"data": {"values": [{}]}, "mark": {"type": "text", "text": "= (310 ± 100) s", "align": "left", "baseline": "alphabetic", "dx": 141, "dy": -19, "fontWeight": "bold", "fontSize": 12.5, "color": "#111"}, "encoding": {"x": {"datum": 0.21}, "y": {"datum": 1.503}}},
    {"data": {"values": [{}]}, "mark": {"type": "text", "text": "G69", "align": "center", "baseline": "middle", "dy": 14, "fontWeight": "bold", "fontSize": 11, "font": "Liberation Sans Narrow, Arial Narrow, Liberation Sans", "color": "#111"}, "encoding": {"x": {"datum": 310}, "y": {"datum": 1.503}}}
  ]}
 ]
}
]
}
